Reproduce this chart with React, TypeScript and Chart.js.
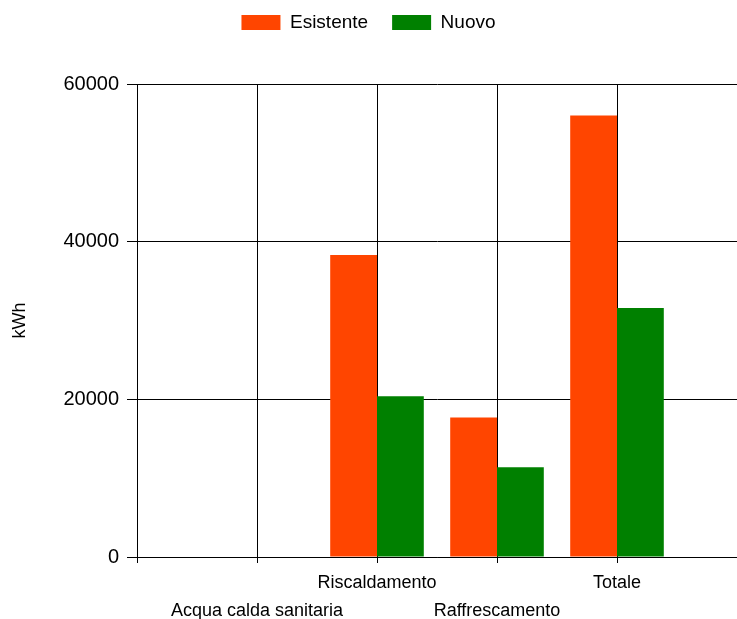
import React, { useEffect, useRef } from 'react';
import { Chart, registerables } from 'chart.js';

Chart.register(...registerables);

// ---- data ----
const categories = ['Acqua calda sanitaria', 'Riscaldamento', 'Raffrescamento', 'Totale'];
const esistente = [0, 38300, 17700, 56000];
const nuovo = [0, 20400, 11400, 31600];
const yTicks = [0, 20000, 40000, 60000];
const seriesNames = ['Esistente', 'Nuovo'];
const seriesColors = ['#FF4500', '#008000'];
const yTitle = 'kWh';

const FONT = "'Liberation Sans', Arial, sans-serif";
const LEGEND_SHIFT = -42;

export default function App() {
  const ref = useRef<HTMLCanvasElement>(null);

  useEffect(() => {
    if (!ref.current) return;
    const labels = ['', ...categories, ''];
    const pad = (arr: number[]) => [null, ...arr, null];

    const legendShift = {
      id: 'legendShift',
      afterLayout(chart: any) {
        const lg = chart.legend;
        if (lg) {
          lg.top += LEGEND_SHIFT;
          lg.bottom += LEGEND_SHIFT;
        }
      },
    };

    const chart = new Chart(ref.current, {
      type: 'bar',
      data: {
        labels,
        datasets: [
          { label: seriesNames[0], data: pad(esistente), backgroundColor: seriesColors[0], borderWidth: 0 },
          { label: seriesNames[1], data: pad(nuovo), backgroundColor: seriesColors[1], borderWidth: 0 },
        ],
      },
      options: {
        animation: false,
        responsive: false,
        layout: { padding: { top: 31, left: 0, right: 0, bottom: 0 } },
        datasets: { bar: { categoryPercentage: 0.78, barPercentage: 1 } } as any,
        plugins: {
          legend: {
            position: 'top',
            labels: {
              boxWidth: 39,
              boxHeight: 15,
              padding: 24,
              color: '#000',
              font: { family: FONT, size: 19 },
            },
          },
          tooltip: { enabled: false },
        },
        scales: {
          x: {
            type: 'category',
            offset: false,
            afterFit: (s: any) => {
              s.height = 62;
              s.paddingLeft = 0;
              s.paddingRight = 0;
            },
            grid: {
              offset: false,
              color: (ctx: any) => (ctx.index === labels.length - 1 ? 'rgba(0,0,0,0)' : '#000'),
              lineWidth: 1,
              tickLength: 6,
            } as any,
            border: { color: '#000', width: 1 },
            ticks: {
              autoSkip: false,
              maxRotation: 0,
              minRotation: 0,
              padding: 6,
              color: '#000',
              font: { family: FONT, size: 18, lineHeight: 1.55 },
              callback: (_v: any, i: number) => {
                const t = labels[i];
                return i % 2 === 1 ? ['', t] : t;
              },
            },
          },
          y: {
            min: yTicks[0],
            max: yTicks[yTicks.length - 1],
            afterBuildTicks: (s: any) => {
              s.ticks = yTicks.map((v) => ({ value: v }));
            },
            afterFit: (s: any) => {
              s.width = 137;
            },
            grid: { color: '#000', lineWidth: 1, tickLength: 10 },
            border: { color: '#000', width: 1 },
            ticks: {
              padding: 8,
              color: '#000',
              font: { family: FONT, size: 20 },
              callback: (v: any) => String(v),
            },
            title: {
              display: true,
              text: yTitle,
              color: '#000',
              font: { family: FONT, size: 18 },
              padding: { top: 9, bottom: 0 },
            },
          },
        },
      },
      plugins: [legendShift],
    });
    return () => chart.destroy();
  }, []);

  return (
    <div style={{ position: 'fixed', left: 0, top: 0, width: 737, height: 619, background: '#fff' }}>
      <canvas ref={ref} width={737} height={619} style={{ display: 'block' }} />
    </div>
  );
}
